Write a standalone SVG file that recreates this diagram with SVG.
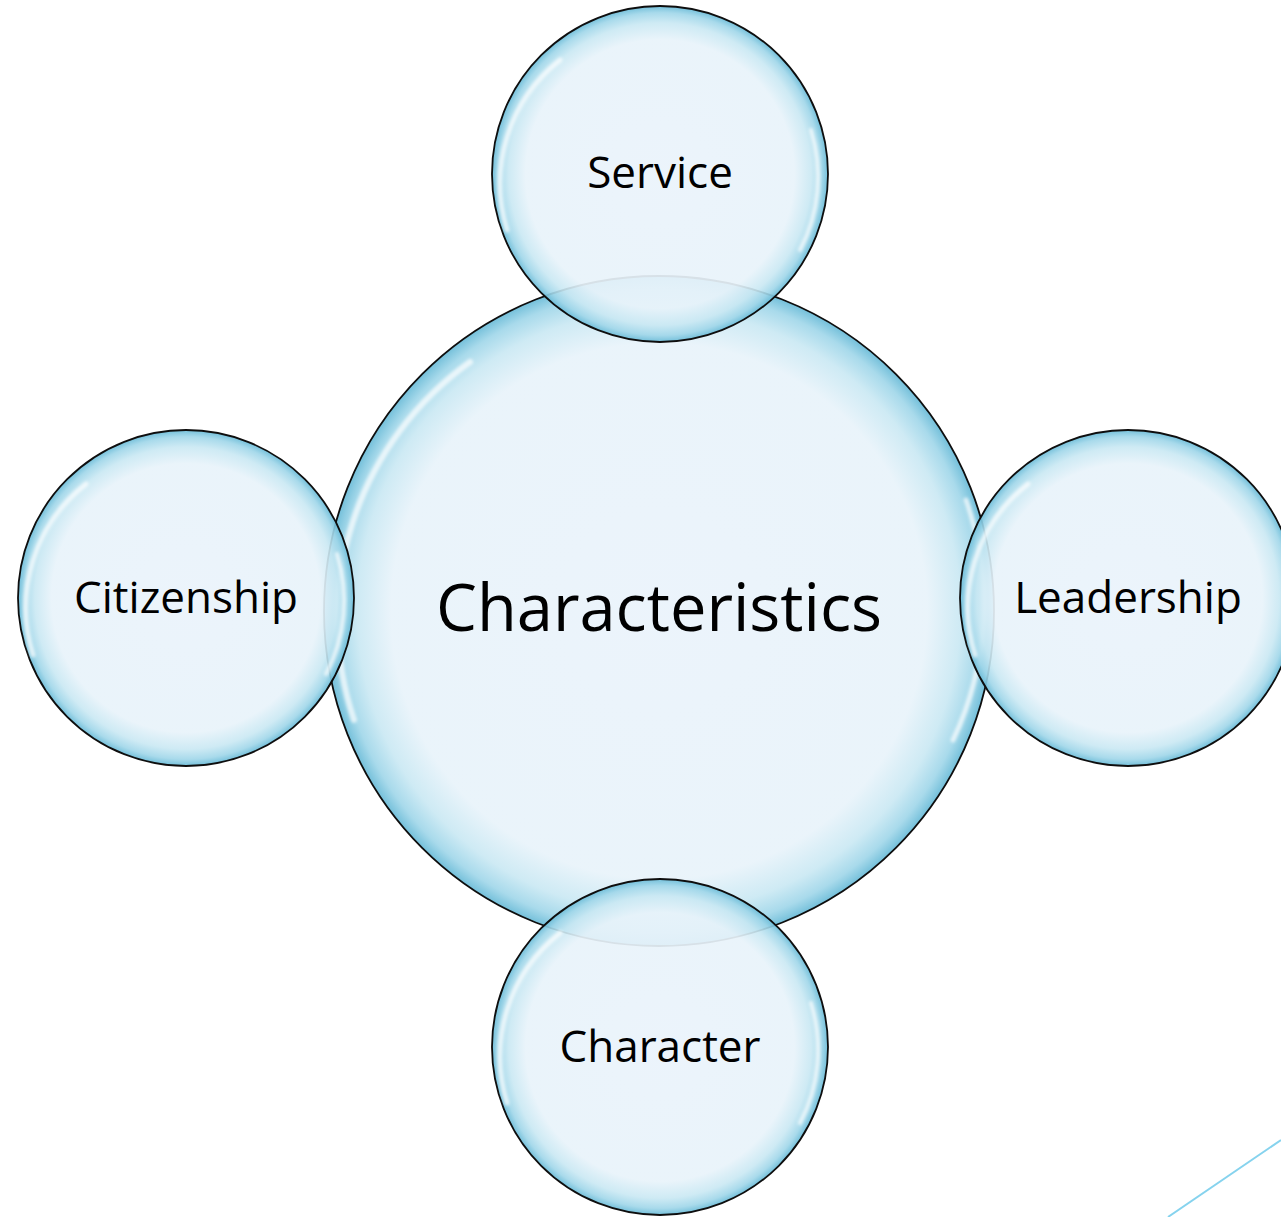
<svg xmlns="http://www.w3.org/2000/svg" width="1281" height="1217" viewBox="0 0 1281 1217">
  <defs>
    <radialGradient id="bubble" cx="50%" cy="50%" r="50%">
      <stop offset="0" stop-color="#EAF3FB" stop-opacity="0.92"/>
      <stop offset="0.80" stop-color="#E8F3FA" stop-opacity="0.92"/>
      <stop offset="0.90" stop-color="#C9E8F3" stop-opacity="0.9"/>
      <stop offset="0.96" stop-color="#9FD6E9" stop-opacity="0.9"/>
      <stop offset="1" stop-color="#6CBCD8" stop-opacity="0.95"/>
    </radialGradient>
    <filter id="soft" x="-20%" y="-20%" width="140%" height="140%">
      <feGaussianBlur stdDeviation="1.5"/>
    </filter>
  </defs>
  <style>
    .bubble { fill: url(#bubble); stroke: #0E0E0E; stroke-width: 1.8; }
    .shine { fill: none; stroke: #FFFFFF; stroke-opacity: 0.7; stroke-linecap: round; filter: url(#soft); }
    .label { font-family: "Open Sans", "DejaVu Sans", sans-serif; fill: #000000; text-anchor: middle; }
    .small { font-size: 44px; }
    .big { font-size: 65px; }
  </style>
  <rect width="1281" height="1217" fill="#FFFFFF"/>

  <g id="node-characteristics">
    <circle class="bubble" cx="659" cy="611" r="335"/>
    <path class="shine" stroke-width="6" d="M 354 720 A 316 316 0 0 1 470 362"/>
    <path class="shine" stroke-width="5" d="M 966 500 A 316 316 0 0 1 953 740"/>
    <text class="label big" x="659" y="631">Characteristics</text>
  </g>

  <g id="node-service">
    <circle class="bubble" cx="660" cy="174" r="168"/>
    <path class="shine" stroke-width="5" d="M 507 230 A 157 157 0 0 1 560 60"/>
    <path class="shine" stroke-width="4" d="M 811 130 A 157 157 0 0 1 800 250"/>
    <text class="label small" x="660" y="188">Service</text>
  </g>

  <g id="node-citizenship">
    <circle class="bubble" cx="186" cy="598" r="168"/>
    <path class="shine" stroke-width="5" d="M 33 655 A 157 157 0 0 1 86 484"/>
    <path class="shine" stroke-width="4" d="M 337 554 A 157 157 0 0 1 326 674"/>
    <text class="label small" x="186" y="613">Citizenship</text>
  </g>

  <g id="node-leadership">
    <circle class="bubble" cx="1128" cy="598" r="168"/>
    <path class="shine" stroke-width="5" d="M 975 655 A 157 157 0 0 1 1028 484"/>
    <text class="label small" x="1128" y="613">Leadership</text>
  </g>

  <g id="node-character">
    <circle class="bubble" cx="660" cy="1047" r="168"/>
    <path class="shine" stroke-width="5" d="M 507 1103 A 157 157 0 0 1 560 933"/>
    <path class="shine" stroke-width="4" d="M 811 1003 A 157 157 0 0 1 800 1123"/>
    <text class="label small" x="660" y="1062">Character</text>
  </g>

  <g id="connectors">
    <line x1="1168" y1="1217" x2="1281" y2="1140" stroke="#86D3EE" stroke-width="2"/>
  </g>
</svg>
